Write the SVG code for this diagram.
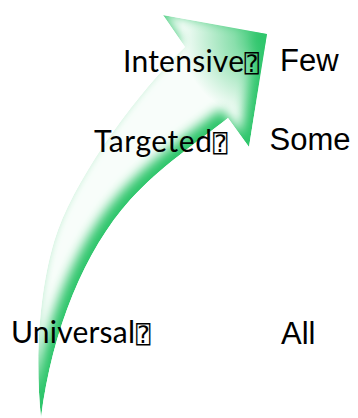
<svg xmlns="http://www.w3.org/2000/svg" width="358" height="418" viewBox="0 0 358 418">
  <style>
    .tier { font-family: Lato, "Open Sans", sans-serif; font-size: 30px; fill: #000; }
    .reach { font-family: "Liberation Sans", Arial, sans-serif; font-size: 31px; fill: #000; }
    .box { font-family: "DejaVu Sans Mono", "DejaVu Sans", monospace; font-size: 24px; }
  </style>
  <defs>
    <path id="arrow-shape"
      d="M41,418 C52,330 85,250 130,200 C160,167 200,140 228,118 L249,147 L267,34 L163,15 L185,47 C140,90 80,170 58,230 C44,268 33,340 41,418 Z"/>
    <clipPath id="arrow-clip">
      <use href="#arrow-shape"/>
    </clipPath>
    <!-- green rim with a soft white core pushed toward the outer side of the curve -->
    <filter id="tube" x="-10%" y="-10%" width="120%" height="120%" color-interpolation-filters="sRGB">
      <feMorphology in="SourceAlpha" operator="erode" radius="2" result="core"/>
      <feOffset in="core" dx="-7" dy="-6" result="shift"/>
      <feGaussianBlur in="shift" stdDeviation="6" result="soft"/>
      <feComponentTransfer in="soft" result="softer">
        <feFuncA type="linear" slope="0.97"/>
      </feComponentTransfer>
      <feFlood flood-color="#ffffff" result="w"/>
      <feComposite in="w" in2="softer" operator="in" result="white"/>
      <feFlood flood-color="#2fc66c" result="g"/>
      <feComposite in="g" in2="SourceAlpha" operator="in" result="green"/>
      <feMerge result="both">
        <feMergeNode in="green"/>
        <feMergeNode in="white"/>
      </feMerge>
      <feComposite in="both" in2="SourceAlpha" operator="in"/>
    </filter>
    <!-- deeper green glow around the arrow tip -->
    <radialGradient id="tip-glow" gradientUnits="userSpaceOnUse" cx="262" cy="38" r="80">
      <stop offset="0" stop-color="#2fc66c" stop-opacity="1"/>
      <stop offset="0.35" stop-color="#2fc66c" stop-opacity="0.55"/>
      <stop offset="1" stop-color="#2fc66c" stop-opacity="0"/>
    </radialGradient>
  </defs>

  <g id="connectors">
    <use id="rise-arrow" href="#arrow-shape" filter="url(#tube)" fill="#2fc66c"/>
    <rect x="160" y="10" width="110" height="140" fill="url(#tip-glow)" clip-path="url(#arrow-clip)"/>
  </g>

  <g id="intensive">
    <text class="tier" x="123" y="71.5" textLength="121" lengthAdjust="spacing">Intensive</text>
    <text class="box" x="244.5" y="71.5">⍰</text>
  </g>
  <g id="few">
    <text class="reach" x="280" y="70.7">Few</text>
  </g>

  <g id="targeted">
    <text class="tier" x="94" y="152" textLength="118" lengthAdjust="spacing">Targeted</text>
    <text class="box" x="213" y="152">⍰</text>
  </g>
  <g id="some">
    <text class="reach" x="269.5" y="149.5">Some</text>
  </g>

  <g id="universal">
    <text class="tier" x="11" y="343" textLength="124" lengthAdjust="spacing">Universal</text>
    <text class="box" x="136" y="343">⍰</text>
  </g>
  <g id="all">
    <text class="reach" x="281" y="344">All</text>
  </g>
</svg>
